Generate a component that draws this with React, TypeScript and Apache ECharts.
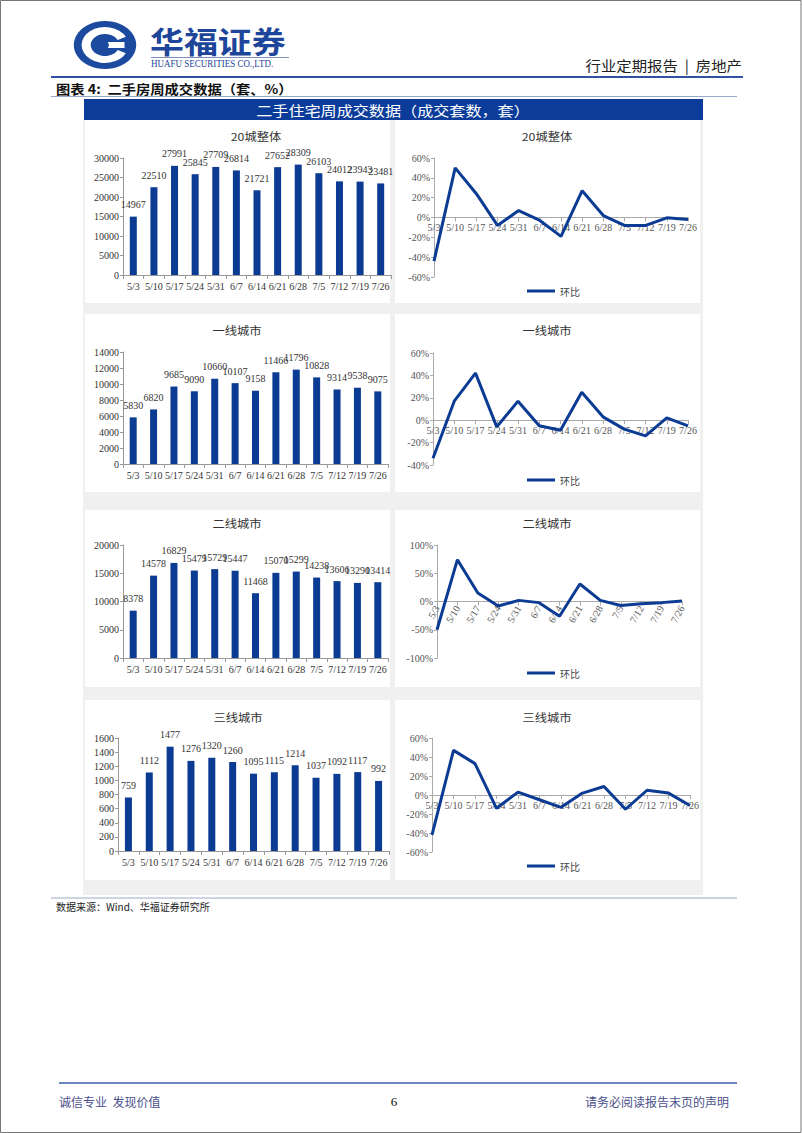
import React, { useEffect, useRef } from "react";
import * as echarts from "echarts";

const categories = ["5/3", "5/10", "5/17", "5/24", "5/31", "6/7", "6/14", "6/21", "6/28", "7/5", "7/12", "7/19", "7/26"];

const city20Volume = [14967, 22510, 27991, 25845, 27709, 26814, 21721, 27652, 28309, 26103, 24012, 23943, 23481];
const city20Mom = [-44, 50, 24, -8, 7, -3, -19, 27, 2, -8, -8, -0.3, -2];

const tier1Volume = [5830, 6820, 9685, 9090, 10660, 10107, 9158, 11466, 11796, 10828, 9314, 9538, 9075];
const tier1Mom = [-34, 17, 42, -6, 17, -5, -9, 25, 3, -8, -14, 2, -5];

const tier2Volume = [8378, 14578, 16829, 15479, 15729, 15447, 11468, 15070, 15299, 14238, 13606, 13290, 13414];
const tier2Mom = [-50, 74, 15, -8, 2, -2, -26, 31, 2, -7, -4, -2, 1];

const tier3Volume = [759, 1112, 1477, 1276, 1320, 1260, 1095, 1115, 1214, 1037, 1092, 1117, 992];
const tier3Mom = [-42, 47, 33, -14, 3, -5, -13, 2, 9, -15, 5, 2, -11];

const panelTitles = ["20城整体", "一线城市", "二线城市", "三线城市"];
const barMax = [30000, 14000, 20000, 1600];
const barInterval = [5000, 2000, 5000, 200];
const lineMin = [-60, -40, -100, -60];
const lineMax = [60, 60, 100, 60];
const lineInterval = [20, 20, 50, 20];
const momName = "环比";

const BLUE = "#0b3b92";
const SERIF = "'Liberation Serif', 'Times New Roman', 'Noto Sans CJK SC', serif";
const CJK = "'Noto Sans CJK SC', 'Liberation Serif', sans-serif";

export default function App() {
  const ref = useRef<HTMLDivElement>(null);

  useEffect(() => {
    if (!ref.current) return;
    const chart = echarts.init(ref.current, undefined, { renderer: "svg" });

    const volumes = [city20Volume, tier1Volume, tier2Volume, tier3Volume];
    const moms = [city20Mom, tier1Mom, tier2Mom, tier3Mom];

    const barGrids = [
      { left: 123, top: 158, width: 268, height: 117 },
      { left: 123, top: 352, width: 265, height: 112 },
      { left: 123, top: 545, width: 265, height: 113 },
      { left: 118, top: 738, width: 271, height: 113 },
    ];
    const lineGrids = [
      { left: 434, top: 158, width: 254, height: 119 },
      { left: 433, top: 353, width: 255, height: 112 },
      { left: 437, top: 545, width: 245, height: 113 },
      { left: 432, top: 738, width: 258, height: 114 },
    ];
    const titleY = [136, 330, 523, 717];
    const barTitleX = [256, 237, 237, 238];
    const legendY = [288, 477, 670, 863];
    const rows = [
      [120, 303],
      [314, 492],
      [510, 687],
      [700, 880],
    ];

    const grid: any[] = [];
    const xAxis: any[] = [];
    const yAxis: any[] = [];
    const series: any[] = [];
    const legend: any[] = [];
    const graphics: any[] = [];

    // page frame and backgrounds
    graphics.push({ type: "rect", z: -20, shape: { x: 0, y: 0, width: 802, height: 1133 }, style: { fill: "#ffffff" } });
    graphics.push({ type: "rect", z: -19, shape: { x: 0.5, y: 0.5, width: 800.5, height: 1132 }, style: { fill: "none", stroke: "#777", lineWidth: 1 } });
    graphics.push({ type: "rect", z: -18, shape: { x: 83, y: 119, width: 620, height: 776 }, style: { fill: "#f0f0f0" } });
    rows.forEach(([y0, y1]) => {
      graphics.push({ type: "rect", z: -17, shape: { x: 85, y: y0, width: 305, height: y1 - y0 }, style: { fill: "#ffffff" } });
      graphics.push({ type: "rect", z: -17, shape: { x: 395, y: y0, width: 305, height: y1 - y0 }, style: { fill: "#ffffff" } });
    });

    // header: logo
    graphics.push({
      type: "group",
      x: 105,
      y: 45,
      scaleX: 1.3,
      scaleY: 1,
      children: [
        { type: "circle", shape: { cx: 0, cy: 0, r: 24 }, style: { fill: "#1b4a9f" } },
        { type: "sector", shape: { cx: 0, cy: 0, r: 18, r0: 11, startAngle: Math.PI * 0.15, endAngle: Math.PI * 1.85, clockwise: true }, style: { fill: "#ffffff" } },
        { type: "rect", shape: { x: -2, y: -3, width: 17, height: 6 }, style: { fill: "#ffffff" } },
        { type: "circle", shape: { cx: -2, cy: 0, r: 5 }, style: { fill: "#1b4a9f" } },
      ],
    });
    graphics.push({ type: "text", x: 150, y: 40, scaleX: 1.13, style: { text: "华福证券", fill: "#1d4599", font: `bold 30px ${CJK}`, align: "left", verticalAlign: "middle" } });
    graphics.push({ type: "line", shape: { x1: 151, y1: 57.5, x2: 289, y2: 57.5 }, style: { stroke: "#8090b8", lineWidth: 1 } });
    graphics.push({ type: "text", x: 151, y: 64, scaleX: 0.9, style: { text: "HUAFU SECURITIES CO.,LTD.", fill: "#1d4599", font: `10px ${SERIF}`, align: "left", verticalAlign: "middle" } });
    graphics.push({ type: "text", x: 742, y: 65, scaleX: 1.1, style: { text: "行业定期报告  |  房地产", fill: "#222", font: `14px ${CJK}`, align: "right", verticalAlign: "middle" } });
    graphics.push({ type: "line", shape: { x1: 51, y1: 77, x2: 743, y2: 77 }, style: { stroke: "#2f52a0", lineWidth: 2 } });
    graphics.push({ type: "text", x: 56, y: 88, scaleX: 1.1, style: { text: "图表 4:  二手房周成交数据（套、%）", fill: "#111", font: `bold 13px ${CJK}`, align: "left", verticalAlign: "middle" } });
    graphics.push({ type: "line", shape: { x1: 51, y1: 96.5, x2: 737, y2: 96.5 }, style: { stroke: "#9aa8c8", lineWidth: 1 } });
    graphics.push({ type: "rect", shape: { x: 84, y: 99, width: 619, height: 21 }, style: { fill: "#0b3c9a" } });
    graphics.push({ type: "text", x: 393, y: 109.5, scaleX: 1.15, style: { text: "二手住宅周成交数据（成交套数，套）", fill: "#ffffff", font: `14px ${CJK}`, align: "center", verticalAlign: "middle" } });

    // footer
    graphics.push({ type: "line", shape: { x1: 51, y1: 898, x2: 737, y2: 898 }, style: { stroke: "#9aa8c8", lineWidth: 1 } });
    graphics.push({ type: "text", x: 56, y: 906, style: { text: "数据来源：Wind、华福证券研究所", fill: "#222", font: `10px ${CJK}`, align: "left", verticalAlign: "middle" } });
    graphics.push({ type: "line", shape: { x1: 59, y1: 1083, x2: 737, y2: 1083 }, style: { stroke: "#3d5fa8", lineWidth: 1.5 } });
    graphics.push({ type: "text", x: 59, y: 1101, style: { text: "诚信专业  发现价值", fill: "#4b4f8a", font: `12px ${CJK}`, align: "left", verticalAlign: "middle" } });
    graphics.push({ type: "text", x: 394, y: 1101, style: { text: "6", fill: "#111", font: `13px ${SERIF}`, align: "center", verticalAlign: "middle" } });
    graphics.push({ type: "text", x: 729, y: 1101, style: { text: "请务必阅读报告末页的声明", fill: "#4b4f8a", font: `12px ${CJK}`, align: "right", verticalAlign: "middle" } });

    for (let i = 0; i < 4; i++) {
      // bar chart
      const bgi = grid.length;
      grid.push({ ...barGrids[i], containLabel: false });
      xAxis.push({
        type: "category",
        gridIndex: bgi,
        data: categories,
        axisLine: { lineStyle: { color: "#999", width: 1 } },
        axisTick: { show: true, alignWithLabel: false, length: 4, lineStyle: { color: "#999" } },
        axisLabel: { interval: 0, fontSize: 10, color: "#333", fontFamily: SERIF, margin: 6 },
      });
      yAxis.push({
        type: "value",
        gridIndex: bgi,
        min: 0,
        max: barMax[i],
        interval: barInterval[i],
        axisLine: { show: true, lineStyle: { color: "#999" } },
        axisTick: { show: true, length: 3, lineStyle: { color: "#999" } },
        splitLine: { show: false },
        axisLabel: { fontSize: 10, color: "#333", fontFamily: SERIF, margin: 4, formatter: (v: number) => String(v) },
      });
      series.push({
        type: "bar",
        name: panelTitles[i] + "成交套数",
        xAxisIndex: bgi,
        yAxisIndex: bgi,
        data: volumes[i],
        barWidth: 7,
        itemStyle: { color: BLUE },
        label: { show: true, position: "top", distance: 7, fontSize: 10, color: "#333", fontFamily: SERIF },
      });
      graphics.push({ type: "text", x: barTitleX[i], y: titleY[i], scaleX: 1.12, style: { text: panelTitles[i], fill: "#333", font: `11px ${CJK}`, align: "center", verticalAlign: "middle" } });

      // line chart
      const lgi = grid.length;
      const lg = lineGrids[i];
      grid.push({ ...lg, containLabel: false });
      const zeroOffset = (lg.height * (0 - lineMin[i])) / (lineMax[i] - lineMin[i]);
      xAxis.push({
        type: "category",
        gridIndex: lgi,
        data: categories,
        boundaryGap: false,
        position: "bottom",
        offset: -zeroOffset,
        axisLine: { onZero: false, lineStyle: { color: "#aaa", width: 1.2 } },
        axisTick: { show: true, length: 4, lineStyle: { color: "#aaa" } },
        axisLabel: { interval: 0, fontSize: 10, color: "#555", fontFamily: SERIF, margin: 5, rotate: i === 2 ? 60 : 0 },
      });
      yAxis.push({
        type: "value",
        gridIndex: lgi,
        min: lineMin[i],
        max: lineMax[i],
        interval: lineInterval[i],
        axisLine: { show: true, lineStyle: { color: "#aaa" } },
        axisTick: { show: true, length: 3, lineStyle: { color: "#aaa" } },
        splitLine: { show: false },
        axisLabel: { fontSize: 10, color: "#555", fontFamily: SERIF, margin: 4, formatter: "{value}%" },
      });
      series.push({
        type: "line",
        name: momName,
        xAxisIndex: lgi,
        yAxisIndex: lgi,
        data: moms[i],
        symbol: "none",
        lineStyle: { color: BLUE, width: 3 },
        itemStyle: { color: BLUE },
      });
      graphics.push({ type: "text", x: 547, y: titleY[i], scaleX: 1.12, style: { text: panelTitles[i], fill: "#333", font: `11px ${CJK}`, align: "center", verticalAlign: "middle" } });
      legend.push({
        data: [momName],
        left: 522,
        top: legendY[i] - 7,
        icon: "rect",
        itemWidth: 28,
        itemHeight: 3,
        itemGap: 2,
        selectedMode: false,
        textStyle: { fontSize: 10, color: "#444", fontFamily: CJK },
      });
    }

    chart.setOption({
      animation: false,
      backgroundColor: "transparent",
      grid,
      xAxis,
      yAxis,
      series,
      legend,
      graphic: { elements: graphics },
    });

    return () => chart.dispose();
  }, []);

  return <div ref={ref} style={{ position: "absolute", left: 0, top: 0, width: 802, height: 1133 }} />;
}
